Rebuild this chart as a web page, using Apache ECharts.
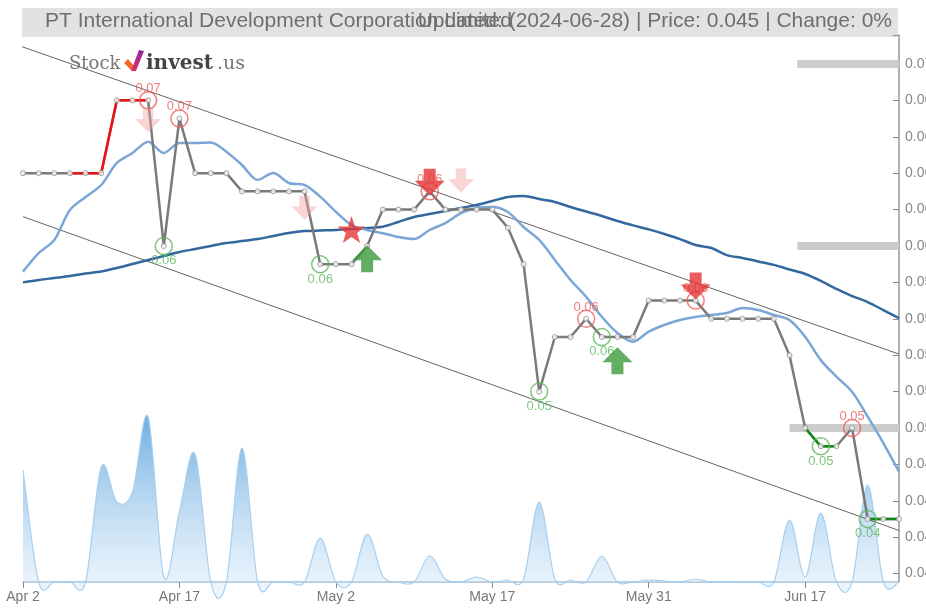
<!DOCTYPE html>
<html>
<head>
<meta charset="utf-8">
<script src="https://cdn.jsdelivr.net/npm/echarts@6/dist/echarts.min.js"></script>
<style>
html,body{margin:0;padding:0;background:#fff;}
#chart{width:926px;height:610px;}
</style>
</head>
<body>
<div id="chart"></div>
<script>
// ---- data ----
const dates = ['Apr 2','Apr 3','Apr 5','Apr 8','Apr 9','Apr 10','Apr 11','Apr 12','Apr 15','Apr 16',
  'Apr 17','Apr 18','Apr 19','Apr 22','Apr 23','Apr 24','Apr 25','Apr 26','Apr 29','Apr 30',
  'May 2','May 3','May 6','May 7','May 8','May 9','May 10','May 13','May 14','May 16',
  'May 17','May 20','May 21','May 22','May 23','May 24','May 27','May 28','May 29','May 30',
  'May 31','Jun 3','Jun 4','Jun 5','Jun 6','Jun 7','Jun 11','Jun 12','Jun 13','Jun 14',
  'Jun 17','Jun 18','Jun 19','Jun 20','Jun 21','Jun 24','Jun 25'];
const prices = [0.064,0.064,0.064,0.064,0.064,0.064,0.068,0.068,0.068,0.060,
  0.067,0.064,0.064,0.064,0.063,0.063,0.063,0.063,0.063,0.059,
  0.059,0.059,0.060,0.062,0.062,0.062,0.063,0.062,0.062,0.062,
  0.062,0.061,0.059,0.052,0.055,0.055,0.056,0.055,0.055,0.055,
  0.057,0.057,0.057,0.057,0.056,0.056,0.056,0.056,0.056,0.054,
  0.050,0.049,0.049,0.050,0.045,0.045,0.045];
const maShort = [0.05859,0.05961,0.06033,0.06198,0.06269,0.06335,0.06456,0.06511,0.06573,0.06511,
  0.06566,0.06566,0.06568,0.06518,0.06445,0.06363,0.06401,0.06346,0.06335,0.06271,
  0.06188,0.06115,0.06088,0.06070,0.06049,0.06038,0.06088,0.06126,0.06181,0.06209,
  0.06214,0.06187,0.06104,0.06033,0.05923,0.05813,0.05721,0.05611,0.05522,0.05474,
  0.05529,0.05566,0.05593,0.05610,0.05621,0.05632,0.05659,0.05648,0.05621,0.05593,
  0.05501,0.05373,0.05282,0.05199,0.05062,0.04917,0.04760];
const maLong = [0.05800,0.05813,0.05824,0.05835,0.05849,0.05860,0.05879,0.05901,0.05923,0.05945,
  0.05967,0.05983,0.06000,0.06016,0.06027,0.06038,0.06055,0.06071,0.06082,0.06085,
  0.06088,0.06093,0.06099,0.06106,0.06132,0.06159,0.06176,0.06192,0.06209,0.06225,
  0.06247,0.06269,0.06275,0.06258,0.06242,0.06214,0.06189,0.06165,0.06137,0.06113,
  0.06091,0.06066,0.06038,0.06005,0.05989,0.05950,0.05934,0.05915,0.05896,0.05871,
  0.05846,0.05808,0.05764,0.05725,0.05692,0.05648,0.05604];
const volumes = [2240000,0,0,0,0,2300000,1600000,1800000,3300000,100000,
  1400000,2560000,0,0,2680000,0,0,0,0,880000,
  0,0,960000,120000,0,0,520000,60000,0,100000,
  0,40000,60000,1600000,60000,40000,0,520000,0,0,
  40000,20000,0,60000,0,0,0,0,0,1240000,
  100000,1380000,0,0,1940000,0,0];
const yTicks = [0.042,0.044,0.046,0.048,0.050,0.052,0.054,0.056,0.058,0.060,0.062,0.064,0.066,0.068,0.070];
const yMin = 0.04154, yMax = 0.07159;
const highIdx = [8,10,26,36,43,53];
const lowIdx = [9,19,33,37,51,54];
const redRanges = [[3,8]];
const greenRanges = [[50,52],[54,56]];
const sellWeak = [[8,0.0669],[18,0.0621],[28,0.0636]];
const sellStrong = [[26,0.0635],[43,0.0578]];
const buyStrong = [[22,0.0593],[38,0.0537]];
const stars = [[21,0.0609]];
const upperTrend = [[-0.6,0.07111],[56,0.05406]];
const lowerTrend = [[0,0.06161],[56,0.04437]];
const levels = [[49.5,0.070],[49.5,0.060],[49,0.050]];
const titleLeft = 'PT International Development Corporation Limited';
const titleRight = 'Updated: (2024-06-28) | Price: 0.045 | Change: 0%';

// ---- build ----
function rangeSeries(ranges){
  return prices.map((p,i)=> ranges.some(r=>i>=r[0]&&i<=r[1]) ? p : null);
}
const lastIdx = prices.length-1;
const arrowDown = 'path://M9,0 L21,0 L21,12 L30,12 L15,27 L0,12 L9,12 Z';
const arrowUp = 'path://M15,0 L30,15 L21,15 L21,27 L9,27 L9,15 L0,15 Z';
const starPath = 'path://M50,0 L61.8,35.1 L97.6,34.5 L69.1,56.7 L79.4,90.5 L50,70 L20.6,90.5 L30.9,56.7 L2.4,34.5 L38.2,35.1 Z';

// volume area: Catmull-Rom spline through the library's coordinates
function renderVolume(params, api){
  if (params.dataIndex !== 0) return;
  const pts = volumes.map((v,i)=>api.coord([i,v]));
  const base = api.coord([0,0])[1];
  const n = pts.length;
  let top = 'M' + pts[0][0] + ',' + pts[0][1];
  for (let i=0;i<n-1;i++){
    const p0 = pts[Math.max(0,i-1)], p1 = pts[i], p2 = pts[i+1], p3 = pts[Math.min(n-1,i+2)];
    const c1x = p1[0] + (p2[0]-p0[0])/6, c1y = p1[1] + (p2[1]-p0[1])/6;
    const c2x = p2[0] - (p3[0]-p1[0])/6, c2y = p2[1] - (p3[1]-p1[1])/6;
    top += ' C' + c1x + ',' + c1y + ' ' + c2x + ',' + c2y + ' ' + p2[0] + ',' + p2[1];
  }
  const area = top + ' L' + pts[n-1][0] + ',' + base + ' L' + pts[0][0] + ',' + base + ' Z';
  return {
    type:'group',
    children:[
      {type:'path', shape:{pathData:area}, style:{
        fill:new echarts.graphic.LinearGradient(0,0,0,1,[{offset:0,color:'rgba(95,165,222,0.9)'},{offset:1,color:'rgba(220,236,250,0.45)'}])
      }},
      {type:'path', shape:{pathData:top}, style:{fill:null, stroke:'#a6d0f0', lineWidth:1.2}}
    ]
  };
}

const chart = echarts.init(document.getElementById('chart'), null, {renderer:'canvas'});
const option = {
  animation:false,
  backgroundColor:'#ffffff',
  grid:{left:23, right:27, top:35, bottom:28, containLabel:false, outerBoundsMode:'none'},
  xAxis:[{
    type:'category', data:dates, boundaryGap:false,
    axisLine:{onZero:false, lineStyle:{color:'#9fb9cf',width:1.5}},
    axisTick:{show:true, interval:9, length:6, lineStyle:{color:'#888'}},
    axisLabel:{interval:9, color:'#777', fontSize:14, fontFamily:'Liberation Sans, Arial, sans-serif', margin:8},
    splitLine:{show:false}
  },{
    type:'value', min:0, max:lastIdx, show:false, axisLine:{onZero:false}
  }],
  yAxis:[{
    type:'value', position:'right', min:yMin, max:yMax,
    axisLine:{show:true, onZero:false, lineStyle:{color:'#999',width:1.5}},
    axisTick:{show:true, inside:true, length:6, customValues:yTicks.concat([yMax]), lineStyle:{color:'#888'}},
    axisLabel:{customValues:yTicks, color:'#888', fontSize:14, margin:6,
      fontFamily:'Liberation Sans, Arial, sans-serif', formatter:v=>v.toFixed(3)},
    splitLine:{show:false}
  },{
    type:'value', min:0, max:10940000, show:false, axisLine:{onZero:false}
  }],
  graphic:[
    {type:'rect', shape:{x:22,y:8,width:876,height:29}, style:{fill:'#e2e2e2'}, z:0},
    {type:'text', x:45, y:11, style:{text:titleLeft, fill:'#6e6e6e', font:'21px "Liberation Sans", Arial, sans-serif'}, z:1},
    {type:'text', x:892, y:11, style:{text:titleRight, align:'right', fill:'#6e6e6e', font:'21px "Liberation Sans", Arial, sans-serif'}, z:1},
    {type:'text', x:69, y:55, style:{text:'Stock', fill:'#777', font:'18px "DejaVu Serif", serif'}, z:1},
    {type:'polygon', shape:{points:[[124,63],[128,59],[134,66],[132,71]]}, style:{fill:'#f26a2a'}, z:1},
    {type:'polygon', shape:{points:[[131,71],[139,50],[144,51],[136,71]]}, style:{fill:new echarts.graphic.LinearGradient(0,1,0,0,[{offset:0,color:'#e0306a'},{offset:1,color:'#8a2aa0'}])}, z:1},
    {type:'text', x:146, y:54, style:{text:'invest', fill:'#444', font:'bold 20px "DejaVu Serif", serif'}, z:1},
    {type:'text', x:217, y:55, style:{text:'.us', fill:'#777', font:'19px "DejaVu Serif", serif'}, z:1}
  ],
  series:[
    {type:'custom', name:'volume', xAxisIndex:1, yAxisIndex:1, data:volumes.map((v,i)=>[i,v]),
      renderItem:renderVolume, clip:false, z:1, silent:true},
    ...levels.map(l=>({type:'line', xAxisIndex:1, yAxisIndex:0, data:[[l[0],l[1]],[lastIdx,l[1]]], symbol:'none',
      lineStyle:{color:'#cccccc', width:8}, z:2, silent:true})),
    {type:'line', xAxisIndex:1, yAxisIndex:0, data:upperTrend, symbol:'none', clip:false,
      lineStyle:{color:'#666', width:1}, z:3, silent:true},
    {type:'line', xAxisIndex:1, yAxisIndex:0, data:lowerTrend, symbol:'none', clip:false,
      lineStyle:{color:'#666', width:1}, z:3, silent:true},
    {type:'line', name:'maLong', xAxisIndex:0, yAxisIndex:0, data:maLong, smooth:0.3, symbol:'none',
      lineStyle:{color:'#33689f', width:2.5}, z:4, silent:true},
    {type:'line', name:'maShort', xAxisIndex:0, yAxisIndex:0, data:maShort, smooth:0.3, symbol:'none',
      lineStyle:{color:'#7ba7d6', width:2.5}, z:4, silent:true},
    {type:'line', name:'price', xAxisIndex:0, yAxisIndex:0, data:prices, symbol:'none',
      lineStyle:{color:'#7a7a7a', width:2.5}, z:5, silent:true},
    {type:'line', xAxisIndex:0, yAxisIndex:0, data:rangeSeries(redRanges), symbol:'none', connectNulls:false,
      lineStyle:{color:'#ee1111', width:2.5}, z:6, silent:true},
    {type:'line', xAxisIndex:0, yAxisIndex:0, data:rangeSeries(greenRanges), symbol:'none', connectNulls:false,
      lineStyle:{color:'#118811', width:2.5}, z:6, silent:true},
    {type:'scatter', xAxisIndex:1, yAxisIndex:0, data:prices.map((p,i)=>[i,p]), symbol:'circle', symbolSize:5,
      itemStyle:{color:'#ffffff', borderColor:'#8a8a8a', borderWidth:1}, z:7, silent:true},
    {type:'scatter', xAxisIndex:1, yAxisIndex:0, data:highIdx.map(i=>[i,prices[i]]), symbol:'circle', symbolSize:17,
      itemStyle:{color:'rgba(0,0,0,0)', borderColor:'#ec5b5b', borderWidth:1.5},
      label:{show:true, position:'top', distance:-4, color:'#ec5b5b', fontSize:13, fontFamily:'Liberation Sans, Arial, sans-serif',
        formatter:p=>p.value[1].toFixed(2)}, z:8, silent:true},
    {type:'scatter', xAxisIndex:1, yAxisIndex:0, data:lowIdx.map(i=>[i,prices[i]]), symbol:'circle', symbolSize:17,
      itemStyle:{color:'rgba(0,0,0,0)', borderColor:'#5cb85c', borderWidth:1.5},
      label:{show:true, position:'bottom', distance:-1, color:'#5cb85c', fontSize:13, fontFamily:'Liberation Sans, Arial, sans-serif',
        formatter:p=>p.value[1].toFixed(2)}, z:8, silent:true},
    {type:'scatter', xAxisIndex:1, yAxisIndex:0, data:sellWeak, symbol:arrowDown, symbolSize:[26,24],
      itemStyle:{color:'rgba(242,160,160,0.55)'}, z:9, silent:true},
    {type:'scatter', xAxisIndex:1, yAxisIndex:0, data:sellStrong, symbol:arrowDown, symbolSize:[30,27],
      itemStyle:{color:'#e33535'}, z:10, silent:true},
    {type:'scatter', xAxisIndex:1, yAxisIndex:0, data:buyStrong, symbol:arrowUp, symbolSize:[30,27],
      itemStyle:{color:'#3c9a3c'}, z:10, silent:true},
    {type:'scatter', xAxisIndex:1, yAxisIndex:0, data:stars, symbol:starPath, symbolSize:[28,27],
      itemStyle:{color:'#e33535'}, z:10, silent:true}
  ]
};
chart.setOption(option);
</script>
</body>
</html>
